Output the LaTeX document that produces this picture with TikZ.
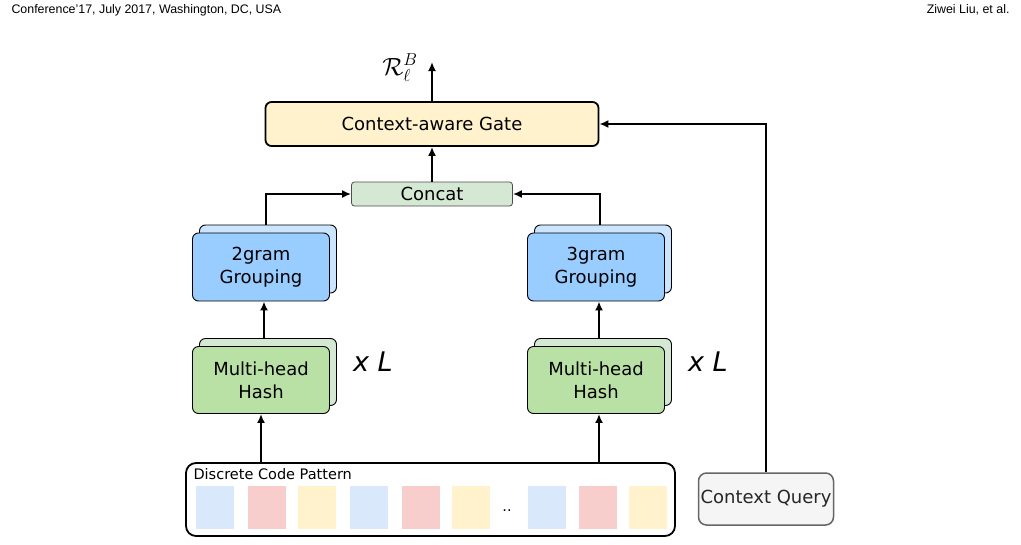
\documentclass[tikz,border=0pt]{standalone}
\usepackage{amsmath,amssymb}
\usepackage{fontspec}
\setmainfont{DejaVu Sans}
\newfontfamily\headfont{Liberation Sans}
\usepackage{xcolor}
\usepackage{tikz}
\usetikzlibrary{arrows.meta, positioning, calc, shadows}

\definecolor{gateyellow}{HTML}{FFF2CC}
\definecolor{concatgreen}{HTML}{D5E8D4}
\definecolor{groupblue}{HTML}{99CCFF}
\definecolor{groupback}{HTML}{CCE5FF}
\definecolor{hashgreen}{HTML}{B9E0A5}
\definecolor{hashback}{HTML}{D5E8D4}
\definecolor{codeblue}{HTML}{DAE8FC}
\definecolor{codered}{HTML}{F8CECC}
\definecolor{querygray}{HTML}{F5F5F5}
\definecolor{queryline}{HTML}{666666}

\begin{document}
\begin{tikzpicture}[x=1pt, y=-1pt, >={Latex[length=9pt, width=8pt]},
    box/.style={rectangle, rounded corners=6pt, align=center, inner sep=0pt, font=\fontsize{18}{23}\selectfont},
    stackbox/.style={box, draw, line width=0.9pt, minimum width=137pt, minimum height=67pt,
        copy shadow={shadow xshift=7pt, shadow yshift=8pt, fill=#1, draw=black, line width=0.9pt}},
    cell/.style={rectangle, inner sep=0pt, minimum width=38pt, minimum height=43pt},
    flow/.style={->, line width=2pt},
    repeatmark/.style={font=\fontsize{27}{30}\selectfont\itshape}]
    \useasboundingbox (0,0) rectangle (1021,544);

    % running head
    \node (confhead) [anchor=west, font=\headfont\fontsize{12.4}{14}\selectfont] at (8,10) {Conference’17, July 2017, Washington, DC, USA};
    \node (authorhead) [anchor=east, font=\headfont\fontsize{12.4}{14}\selectfont] at (1013,10) {Ziwei Liu, et al.};

    % gate and concat
    \node (gate) [box, draw, line width=1.8pt, fill=gateyellow, minimum width=333pt, minimum height=44pt, text depth=0pt, yshift=-2pt] at (432,122) {Context-aware Gate};
    \node (concat) [box, rounded corners=3pt, draw=black!70, line width=0.8pt, fill=concatgreen, minimum width=161pt, minimum height=24pt] at (432,194) {Concat};
    \coordinate (out) at (432,62);
    \node (rlabel) at (400,68) {\fontsize{24}{26}\selectfont$\mathcal{R}_\ell^B$};

    % grouping and hashing branches
    \node (g2) [stackbox=groupback, fill=groupblue, minimum height=68pt] at (261,267) {2gram\\Grouping};
    \node (g3) [stackbox=groupback, fill=groupblue, minimum height=68pt] at (596,267) {3gram\\Grouping};
    \node (h2) [stackbox=hashback, fill=hashgreen] at (261,380) {Multi-head\\Hash};
    \node (h3) [stackbox=hashback, fill=hashgreen] at (596,380) {Multi-head\\Hash};
    \node (rep2) [repeatmark] at (373,362) {x L};
    \node (rep3) [repeatmark] at (708,362) {x L};

    % input pattern
    \node (code) [box, draw, line width=1.8pt, rounded corners=10pt, minimum width=489pt, minimum height=73pt] at (430.5,499.5) {};
    \node (codelabel) [anchor=west, font=\fontsize{14.5}{16}\selectfont] at (190,474) {Discrete Code Pattern};
    \foreach \x/\c [count=\i] in {196/codeblue, 248/codered, 298/gateyellow, 350/codeblue, 402/codered, 452/gateyellow, 528/codeblue, 579/codered, 629/gateyellow}
        \node (sq\i) [cell, fill=\c] at (\x+19,507.5) {};
    \node (dots) [font=\fontsize{14.5}{16}\selectfont] at (507,511) {..};

    \node (query) [box, draw=queryline, line width=1.5pt, rounded corners=8pt, fill=querygray, minimum width=135pt, minimum height=52pt, text=black!85] at (766,499) {Context Query};

    % connections
    \coordinate (g2top) at ([xshift=5pt, yshift=8pt]g2.north);
    \coordinate (g3top) at ([xshift=4pt, yshift=8pt]g3.north);
    \coordinate (h3in) at ([xshift=3pt]h3.south);
    \draw [flow] (gate.north) -- (out);
    \draw [flow] (concat.north) -- (gate.south);
    \draw [flow] (g2top) |- (concat.west);
    \draw [flow] (g3top) |- (concat.east);
    \draw [flow] ([xshift=3pt, yshift=8pt]h2.north) -- ([xshift=3pt]g2.south);
    \draw [flow] ([xshift=3pt, yshift=8pt]h3.north) -- ([xshift=3pt]g3.south);
    \draw [flow] (code.north -| h2.south) -- (h2.south);
    \draw [flow] (h3in |- code.north) -- (h3in);
    \draw [flow] (query.north) |- (gate.east);
\end{tikzpicture}
\end{document}
